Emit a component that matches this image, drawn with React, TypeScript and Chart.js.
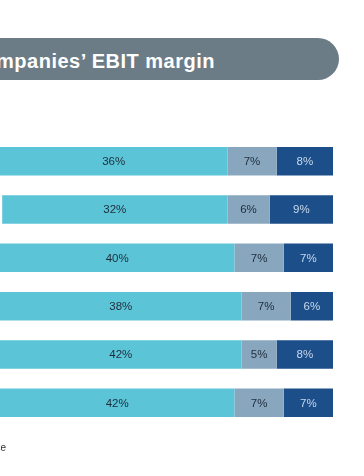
import React, { useEffect, useRef } from "react";
import { Chart, registerables } from "chart.js";

Chart.register(...registerables);

const categories = ["Row 1", "Row 2", "Row 3", "Row 4", "Row 5", "Row 6"];
const segA = [36, 32, 40, 38, 42, 42];
const segB = [7, 6, 7, 7, 5, 7];
const segC = [8, 9, 7, 6, 8, 7];
// share lying to the left of the visible crop (remainder to 100%)
const hiddenRest = segA.map((a, i) => 100 - a - segB[i] - segC[i]);

const titleText = "companies’ EBIT margin";
const footText = "Source";

const labelPlugin = {
  id: "segLabels",
  afterDatasetsDraw(chart: any) {
    const ctx = chart.ctx;
    ctx.save();
    ctx.font = "11.5px 'Liberation Sans', Arial, sans-serif";
    ctx.textAlign = "center";
    ctx.textBaseline = "middle";
    chart.data.datasets.forEach((ds: any, di: number) => {
      if (!ds.showLabel) return;
      const meta = chart.getDatasetMeta(di);
      meta.data.forEach((bar: any, i: number) => {
        const left = Math.max(bar.base, chart.chartArea.left);
        const cx = (left + bar.x) / 2;
        ctx.fillStyle = ds.labelColor;
        ctx.fillText(ds.data[i] + "%", cx, bar.y + 0.5);
      });
    });
    ctx.restore();
  },
};

export default function App() {
  const ref = useRef<HTMLCanvasElement>(null);
  useEffect(() => {
    if (!ref.current) return;
    const chart = new Chart(ref.current, {
      type: "bar",
      data: {
        labels: categories,
        datasets: [
          { label: "Rest", data: hiddenRest, backgroundColor: "#ffffff", showLabel: false } as any,
          { label: "A", data: segA, backgroundColor: "#5cc4d7", showLabel: true, labelColor: "#1e2c3a" } as any,
          { label: "B", data: segB, backgroundColor: "#88a7bf", showLabel: true, labelColor: "#1e2c3a" } as any,
          { label: "C", data: segC, backgroundColor: "#1c4e89", showLabel: true, labelColor: "#c9d9ec" } as any,
        ],
      },
      options: {
        indexAxis: "y",
        animation: false,
        responsive: false,
        maintainAspectRatio: false,
        layout: { padding: { left: 0, right: 31, top: 137, bottom: 49 } },
        datasets: { bar: { categoryPercentage: 1, barPercentage: 0.59, borderWidth: 0 } },
        plugins: { legend: { display: false }, tooltip: { enabled: false }, title: { display: false } },
        scales: {
          x: { stacked: true, min: 52.7, max: 100, display: false },
          y: { stacked: true, display: false },
        },
      },
      plugins: [labelPlugin],
    });
    return () => chart.destroy();
  }, []);

  return (
    <div style={{ position: "fixed", left: 0, top: 0, width: 364, height: 476, overflow: "hidden", background: "#ffffff" }}>
      <div style={{ position: "absolute", left: -40, top: 38, width: 379, height: 42, borderRadius: 21, background: "#6c7c87" }} />
      <div
        style={{
          position: "absolute",
          right: 149,
          top: 51,
          whiteSpace: "nowrap",
          textAlign: "right",
          color: "#ffffff",
          fontFamily: "'Liberation Sans', Arial, sans-serif",
          fontWeight: "bold",
          fontSize: 20,
          letterSpacing: "0.5px",
          lineHeight: "20px",
        }}
      >
        {titleText}
      </div>
      <canvas ref={ref} width={364} height={476} style={{ position: "absolute", left: 0, top: 0, width: 364, height: 476 }} />
      <div
        style={{
          position: "absolute",
          right: 358,
          top: 443,
          whiteSpace: "nowrap",
          color: "#333333",
          fontFamily: "'Liberation Sans', Arial, sans-serif",
          fontSize: 10,
          lineHeight: "10px",
        }}
      >
        {footText}
      </div>
    </div>
  );
}
